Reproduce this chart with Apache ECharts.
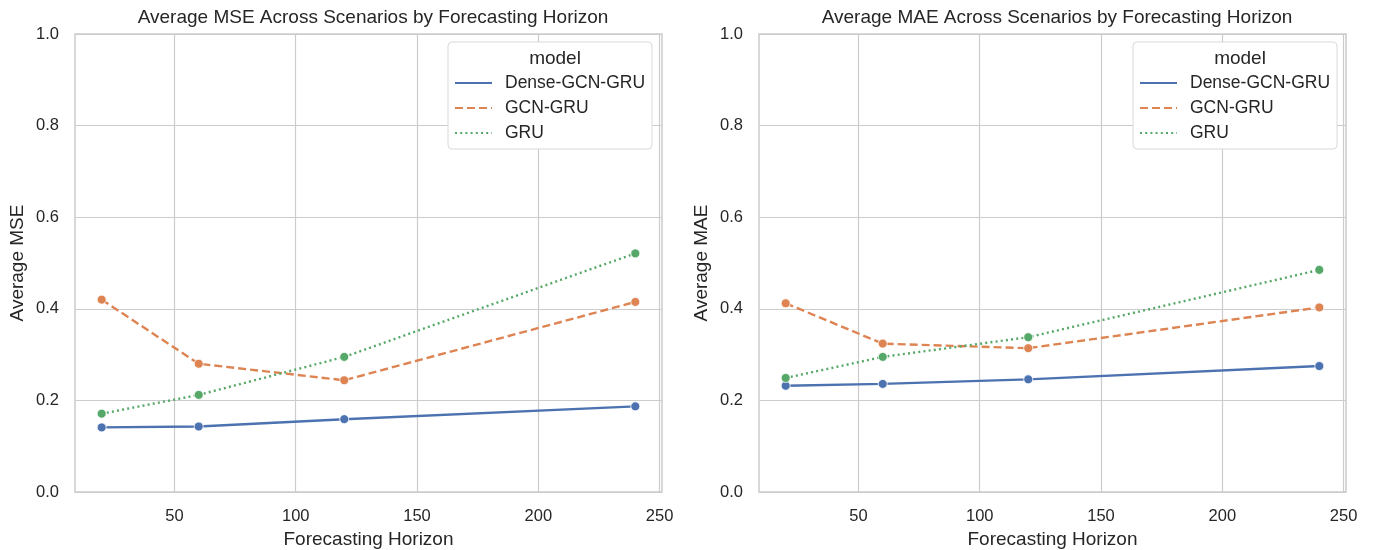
<!DOCTYPE html>
<html>
<head>
<meta charset="utf-8">
<script src="https://cdn.jsdelivr.net/npm/echarts@6/dist/echarts.min.js"></script>
<style>
  html, body { margin: 0; padding: 0; background: #fff; }
  #chart { width: 1374px; height: 550px; }
</style>
</head>
<body>
<div id="chart"></div>
<script>
// forecasting horizons on the x axis
const horizons = [20, 60, 120, 240]
const models = ['Dense-GCN-GRU', 'GCN-GRU', 'GRU']

// average MSE per model (left panel)
const mseDense = [0.141, 0.143, 0.159, 0.187]
const mseGcn = [0.420, 0.280, 0.244, 0.415]
const mseGru = [0.171, 0.212, 0.295, 0.521]

// average MAE per model (right panel)
const maeDense = [0.232, 0.236, 0.246, 0.275]
const maeGcn = [0.412, 0.324, 0.314, 0.403]
const maeGru = [0.249, 0.295, 0.338, 0.485]

const xTicks = [50, 100, 150, 200, 250]

const colors = ['#4C72B0', '#DD8452', '#55A868']
const dashes = ['solid', [8, 4], [2, 3.2]]
const font = 'Liberation Sans, Arial, sans-serif'
const textColor = '#262626'
const gridColor = '#cccccc'

const chart = echarts.init(document.getElementById('chart'))

const pairs = (vals) => horizons.map((h, i) => [h, vals[i]])

function makeSeries(vals, idx, panel) {
  return {
    name: models[idx],
    type: 'line',
    xAxisIndex: panel,
    yAxisIndex: panel,
    data: pairs(vals),
    symbol: 'circle',
    symbolSize: 9,
    z: 3 + idx,
    lineStyle: { color: colors[idx], width: 2.4, type: dashes[idx] },
    itemStyle: { color: colors[idx], borderColor: '#fff', borderWidth: 0.8 },
    emphasis: { disabled: true }
  }
}

function xAxis(panel) {
  return {
    type: 'value',
    gridIndex: panel,
    min: 9,
    max: 251,
    name: 'Forecasting Horizon',
    nameLocation: 'middle',
    nameGap: 36,
    nameTextStyle: { fontFamily: font, fontSize: 19, color: textColor },
    axisLine: { show: false },
    axisTick: { show: false, customValues: xTicks },
    axisLabel: { customValues: xTicks, fontFamily: font, fontSize: 16.5, color: textColor, margin: 16 },
    splitLine: { show: true, customValues: xTicks, lineStyle: { color: gridColor, width: 1.2 } }
  }
}

function yAxis(panel, label) {
  return {
    type: 'value',
    gridIndex: panel,
    min: 0,
    max: 1,
    interval: 0.2,
    name: label,
    nameLocation: 'middle',
    nameGap: 48,
    nameTextStyle: { fontFamily: font, fontSize: 19, color: textColor },
    axisLine: { show: false },
    axisTick: { show: false },
    axisLabel: { fontFamily: font, fontSize: 16.5, color: textColor, margin: 16, formatter: (v) => v.toFixed(1) },
    splitLine: { show: true, lineStyle: { color: gridColor, width: 1.2 } }
  }
}

function legend(pos) {
  return Object.assign({
    top: 42,
    orient: 'vertical',
    data: models,
    backgroundColor: '#fff',
    borderColor: '#d9d9d9',
    borderWidth: 1,
    borderRadius: 4,
    padding: [31, 7, 6, 6],
    itemWidth: 37,
    itemHeight: 14,
    itemGap: 5,
    itemStyle: { opacity: 0 },
    textStyle: { fontFamily: font, fontSize: 17.5, lineHeight: 20, color: textColor, padding: [0, 0, 0, 8] },
    selectedMode: false
  }, pos)
}

const option = {
  backgroundColor: '#fff',
  animation: false,
  title: [
    { text: 'Average MSE Across Scenarios by Forecasting Horizon', left: 368, top: 3, textAlign: 'center',
      textStyle: { fontFamily: font, fontSize: 19, fontWeight: 'normal', color: textColor } },
    { text: 'Average MAE Across Scenarios by Forecasting Horizon', left: 1052, top: 3, textAlign: 'center',
      textStyle: { fontFamily: font, fontSize: 19, fontWeight: 'normal', color: textColor } },
    { text: 'model', left: 550, top: 44, textAlign: 'center', z: 10,
      textStyle: { fontFamily: font, fontSize: 19, fontWeight: 'normal', color: textColor } },
    { text: 'model', left: 1235, top: 44, textAlign: 'center', z: 10,
      textStyle: { fontFamily: font, fontSize: 19, fontWeight: 'normal', color: textColor } }
  ],
  legend: [legend({ left: 448 }), legend({ left: 1133 })],
  grid: [
    { left: 75, right: 712, top: 34, bottom: 58, outerBoundsMode: 'none', show: true,
      borderColor: gridColor, borderWidth: 1.5, backgroundColor: 'transparent' },
    { left: 759, right: 28, top: 34, bottom: 58, outerBoundsMode: 'none', show: true,
      borderColor: gridColor, borderWidth: 1.5, backgroundColor: 'transparent' }
  ],
  xAxis: [xAxis(0), xAxis(1)],
  yAxis: [yAxis(0, 'Average MSE'), yAxis(1, 'Average MAE')],
  series: [
    makeSeries(mseDense, 0, 0),
    makeSeries(mseGcn, 1, 0),
    makeSeries(mseGru, 2, 0),
    makeSeries(maeDense, 0, 1),
    makeSeries(maeGcn, 1, 1),
    makeSeries(maeGru, 2, 1)
  ]
}

chart.setOption(option)
</script>
</body>
</html>
